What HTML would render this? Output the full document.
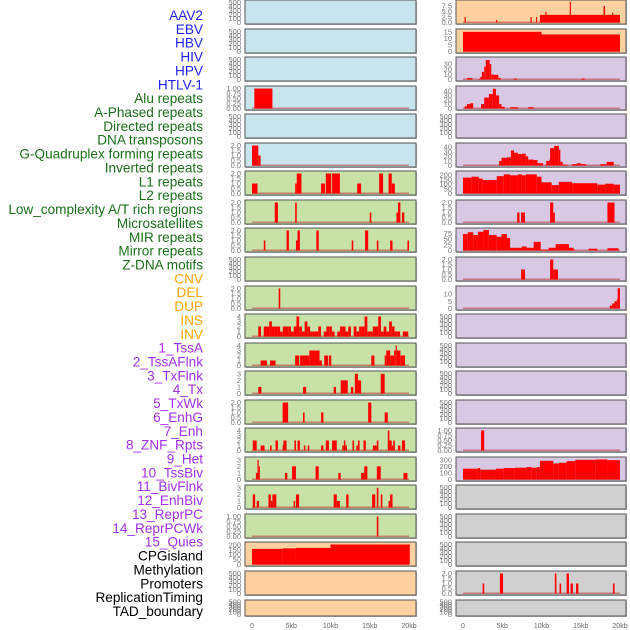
<!DOCTYPE html>
<html><head><meta charset="utf-8"><style>
html,body{margin:0;padding:0;background:#fff;width:630px;height:630px;overflow:hidden}
svg{display:block;font-family:"Liberation Sans",sans-serif}
</style></head><body>
<svg id="chart" width="630" height="630" viewBox="0 0 630 630"></svg>
<script>
const labels=["AAV2","EBV","HBV","HIV","HPV","HTLV-1","Alu repeats","A-Phased repeats","Directed repeats","DNA transposons","G-Quadruplex forming repeats","Inverted repeats","L1 repeats","L2 repeats","Low_complexity A/T rich regions","Microsatellites","MIR repeats","Mirror repeats","Z-DNA motifs","CNV","DEL","DUP","INS","INV","1_TssA","2_TssAFlnk","3_TxFlnk","4_Tx","5_TxWk","6_EnhG","7_Enh","8_ZNF_Rpts","9_Het","10_TssBiv","11_BivFlnk","12_EnhBiv","13_ReprPC","14_ReprPCWk","15_Quies","CPGisland","Methylation","Promoters","ReplicationTiming","TAD_boundary"];
const labelGroups=[6,13,5,15,5];
const groupColors=["#2222ee","#1a6e1a","#ffa500","#a030e8","#000000"];
const xTicks=[0,5,10,15,20];
const xTickLabels=["0","5kb","10kb","15kb","20kb"];
const leftBg=["b","b","b","b","b","b","g","g","g","g","g","g","g","g","g","g","g","g","g","p","p","p"];
const rightBg=["p","p","l","l","l","l","l","l","l","l","l","l","l","l","l","l","l","r","r","r","r","r"];
const leftMax=[520,520,520,1.05,520,2.1,2.1,2.1,2.1,520,2.1,4.2,4.2,3.2,2.1,4.2,3.2,3.2,1.05,215,520,520];
const rightMax=[9.6,16,41,48,520,46,225,2.1,92,2.1,14.5,520,520,520,520,1.05,320,520,520,520,2.1,520];
const dense12=[2,0,2,2,3,2,2,2,1,2,2,2,1,2,4,2,1,3,2,1,1,1,2,0,1,2,2,1,0,1,2,2,1,2,0,2,1,2,2,4,1,1,2,2,4,1,2,1,3,2,1,1,0,1,1];
const leftData=[[],[],[],[[0.3,2.6,1]],[],[[0,0.8,2],[0.8,1.1,1]],
[[0,0.7,1],[5.5,5.7,1],[5.7,6.3,2],[8.8,9.3,1],[9.4,10.1,2],[10.2,11.2,2],[13.4,13.9,1],[16.2,16.7,2],[17.4,17.8,2],[17.8,18.2,1]],
[[2.9,3.3,2],[5.5,5.7,2],[15,15.2,1],[18.4,18.6,1],[18.6,18.9,2],[19.1,19.4,1]],
[[1.5,1.7,1],[4.4,4.7,2],[5.6,5.8,1],[5.8,6.1,2],[8.2,8.5,2],[12.7,12.9,1],[14.4,14.8,2],[15.9,16.1,1],[17.6,17.9,1],[19.8,20,1]],
[],[[3.4,3.6,2]],
"dense",
[[1.1,1.9,1],[2.3,3,1],[5.5,6,2],[6.1,7.3,2],[7.3,8.6,3],[8.6,8.9,1],[9.2,9.7,2],[9.8,10.1,2],[15.2,15.6,2],[16.9,17.1,2],[17.1,17.6,3],[17.6,18.1,2],[18.1,18.3,3],[18.3,18.45,4],[18.45,18.9,3],[18.9,19.5,2]],
[[0.8,1.2,1],[6.5,6.9,1],[10.4,10.7,1],[11.3,12.2,2],[12.6,12.9,1],[13.1,13.5,3],[13.5,13.9,2],[16.4,16.9,3]],
[[3.9,4.6,2],[6.5,6.7,1],[8.8,9.1,1],[14.8,15.2,2],[16.9,17.3,1]],
[[0.1,0.6,2],[1.1,1.6,1],[2.3,2.5,1],[3,3.3,2],[3.9,4,1],[4,4.4,2],[5.4,5.6,2],[5.8,6.1,2],[6.6,6.8,1],[7.1,7.3,1],[8.8,9.1,1],[9.4,9.8,2],[10.2,10.8,2],[11.5,11.7,1],[11.7,11.9,2],[11.9,12.1,1],[12.8,13,2],[13.3,13.5,1],[13.5,13.7,2],[14.2,14.5,2],[15.4,15.9,1],[15.9,16.1,2],[17.3,17.5,4],[17.5,17.8,2],[17.8,18,1],[18,18.2,2],[18.6,18.9,1],[19.1,19.5,2]],
[[0.5,0.7,1],[0.7,0.85,3],[0.85,1,2],[4.2,4.5,1],[5.1,5.6,2],[8.1,8.5,2],[11,11.3,1],[13.9,14.3,1],[14.3,14.7,2],[15.9,16.4,2],[19.3,19.8,1]],
[[0.1,0.4,2],[0.6,0.9,1],[2.1,2.4,2],[2.4,2.6,1],[2.6,3.1,2],[5.3,5.5,1],[5.6,6,2],[10.4,10.8,2],[10.8,11.2,1],[12,12.3,2],[15.3,15.7,2],[15.9,16.1,3],[16.4,16.6,2],[17.4,17.6,1],[17.6,17.9,2]],
[[15.9,16.1,1]],
[[0,3.9,160],[3.9,5.6,165],[5.6,10,170],[10,20.1,205]],
[],[]];
const rightData=[
[[0.2,0.35,2.5],[4.2,4.35,1.2],[8.6,8.75,2.5],[9.3,9.45,2.5],[9.8,20,3.5],[10.5,10.65,5],[13.6,13.75,9.5],[17.9,18.1,7.5],[19,19.15,4.5]],
[[0,10,15],[10,20,13]],
[[0.5,1.2,3],[2,2.2,1],[2.2,2.4,5],[2.4,2.7,15],[2.7,2.9,25],[2.9,3.4,38],[3.4,3.6,30],[3.6,3.9,10],[3.9,4.5,9],[4.5,4.8,3],[6.5,6.9,2],[15.1,15.5,2]],
[[0.2,0.5,5],[0.5,0.9,10],[0.9,1.3,12],[2.3,2.7,10],[2.7,3.3,25],[3.3,3.8,33],[3.8,4.2,45],[4.2,4.6,30],[4.6,4.9,10],[4.9,5.3,4],[6,7,3],[8.3,9,3]],
[],
[[4.6,4.9,10],[4.9,5.6,17],[5.6,6.1,18],[6.1,6.5,33],[6.5,7,28],[7,7.5,25],[7.5,8,26],[8,8.3,20],[8.3,9,13],[9,9.5,12],[9.5,10.2,5],[10.6,11,10],[11,11.1,13],[11.1,11.6,38],[11.6,12.2,43],[12.2,12.4,35],[12.4,12.7,8],[12.7,13.3,2],[13.9,14.5,3],[14.5,15,5],[15,15.7,3],[17.5,18.3,3],[18.3,19.2,8]],
[[0,1.1,170],[1.1,2,180],[2,2.5,160],[2.5,4.3,145],[4.3,5.2,185],[5.2,6,205],[6,7,195],[7,7.5,205],[7.5,8,195],[8,9.4,205],[9.4,10,180],[10,11.3,120],[11.3,12.2,90],[12.2,13.9,125],[13.9,17.1,110],[17.1,18.1,95],[18.1,19.2,105],[19.2,20,95]],
[[6.9,7.2,1],[7.4,7.9,1],[11.1,11.5,2],[11.5,11.7,1],[18.4,19.3,2]],
[[0,0.6,72],[0.6,1.3,80],[1.3,1.9,68],[1.9,2.6,82],[2.6,3.3,90],[3.3,4.3,68],[4.3,4.9,60],[4.9,5.6,72],[5.6,6,55],[6,7.5,12],[7.5,8.1,18],[8.1,9,12],[9,9.9,38],[9.9,10.9,4],[10.9,11.8,12],[11.8,13.5,28],[13.5,14.1,12],[14.1,14.3,3],[16,17.1,8],[18.4,19.8,10]],
[[7.4,7.9,1],[11.1,11.5,2],[11.5,12.1,1]],
[[18.7,19,2],[19,19.3,3.5],[19.3,19.6,5],[19.6,19.7,6.5],[19.7,20,14]],
[],[],[],[],
[[2.3,2.7,1]],
[[0,1.9,165],[1.9,2.2,175],[2.2,4.2,150],[4.2,5.2,165],[5.2,6.6,175],[6.6,8.1,180],[8.1,8.7,190],[8.7,9.4,180],[9.4,9.8,190],[9.8,11.5,285],[11.5,12.2,245],[12.2,13.2,255],[13.2,14.3,280],[14.3,16.9,300],[16.9,18.4,305],[18.4,20,295]],
[],[],[],
[[2.5,2.7,1],[4.7,5.1,2],[11.7,11.9,2],[12.3,12.5,1],[13.2,13.5,2],[13.7,14,1],[14.4,14.7,1],[19.1,19.3,1]],
[]];
const bgColors={b:"#c8e4ec",g:"#c7e1a6",p:"#ffd1a0",l:"#d8c8e4",r:"#d0d0d0"};
const panelTops=[0,29,57,86,114,143,171,200,228,257,286,314,343,371,400,428,457,485,514,542,571,600];
const NS="http://www.w3.org/2000/svg";
const svg=document.getElementById('chart');
function mk(tag,attrs,parent){const e=document.createElementNS(NS,tag);for(const k in attrs)e.setAttribute(k,attrs[k]);(parent||svg).appendChild(e);return e;}
function ticksFor(max){
  if(max>400)return [[0,100,200,300,400,500],0];
  if(max>300)return [[0,100,200,300],0];
  if(max>200)return [[0,50,100,150,200],0];
  if(max>=90)return [[0,25,50,75],0];
  if(max>=42)return [[0,10,20,30,40],0];
  if(max>=40)return [[0,10,20,30],0];
  if(max>=14)return [[0,5,10,15].filter(v=>v<=max),0];
  if(max>=9)return [[0,2.5,5,7.5],1];
  if(max>=4)return [[0,1,2,3,4],0];
  if(max>=3)return [[0,1,2,3],0];
  if(max>=2)return [[0,0.5,1,1.5,2],1];
  return [[0,0.25,0.5,0.75,1],2];
}
let li=0;
labelGroups.forEach((n,g)=>{for(let k=0;k<n;k++){
  const t=mk('text',{x:203,y:15+li*13.86+5,'text-anchor':'end','font-size':'13.6',fill:groupColors[g]});
  t.textContent=labels[li];
  
  
  li++;}});
function drawPanel(side,i){
  const px=side==='L'?245:456, pw=side==='L'?171:170;
  const x0=side==='L'?252:463, kbScale=157/20;
  const top=panelTops[i], h=(i===21)?16:24;
  const base=top+h-1.5, plotH=h-3;
  const max=side==='L'?leftMax[i]:rightMax[i];
  let data=side==='L'?leftData[i]:rightData[i];
  if(data==="dense"){const w=(19.9-0.8)/dense12.length;data=dense12.map((v,k)=>[0.8+k*w,0.8+(k+1)*w,v]);}
  const bg=bgColors[(side==='L'?leftBg:rightBg)[i]];
  const g=mk('g',{});
  
  
  mk('rect',{x:px+1,y:top+1,width:pw,height:h,fill:'#bbb'},g);
  const r=mk('rect',{x:px,y:top,width:pw,height:h,fill:bg,stroke:'#555','stroke-width':1},g);
  
  
  const y=v=>base-v/max*plotH;
  const xs=kb=>x0+kb*kbScale;
  if(data.length){
    const bl=mk('rect',{x:xs(0),y:base-1,width:xs(20)-xs(0),height:1.5,fill:'#c04040',opacity:0.6},g);
    
    
  }
  data.forEach(d=>{
    const b=mk('rect',{x:xs(d[0]),y:y(d[2]),width:Math.max(0.8,xs(d[1])-xs(d[0])),height:base-y(d[2]),fill:'#ff0000'},g);
    
    
  });
  const [tv,dec]=ticksFor(max);
  tv.forEach(v=>{
    const yy=y(v); if(yy<top-2)return;
    const t=mk('text',{x:px-4,y:yy+2.5,'text-anchor':'end','font-size':'7.5',fill:'#777'},g);
    t.textContent=dec?v.toFixed(dec):String(v);
    
    
  });
}
for(let i=0;i<22;i++){drawPanel('L',i);drawPanel('R',i);}
[252,463].forEach(x0=>{
  xTicks.forEach((kb,k)=>{
    const t=mk('text',{x:x0+kb*157/20,y:628,'text-anchor':'middle','font-size':'7',fill:'#666'});
    t.textContent=xTickLabels[k];
    
    
  });
});
</script>
</body></html>
